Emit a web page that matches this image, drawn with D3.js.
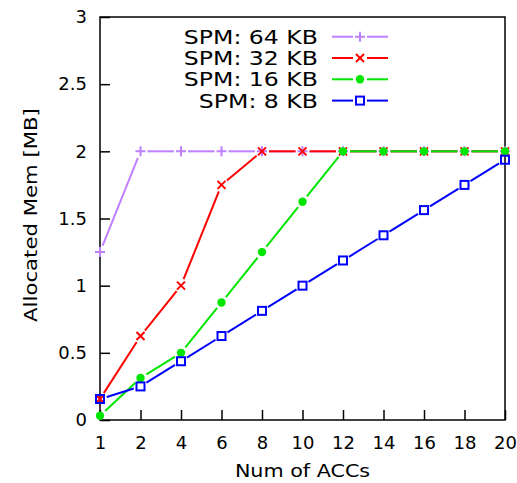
<!DOCTYPE html>
<html>
<head>
<meta charset="utf-8">
<script src="https://cdn.jsdelivr.net/npm/d3@7"></script>
<style>
  html, body { margin: 0; padding: 0; background: #fff; }
  text { font-family: "DejaVu Sans", sans-serif; fill: #000; }
</style>
</head>
<body>
<svg id="chart" width="517" height="483"></svg>
<script>
// Number of accelerators on the x axis (evenly spaced categories)
const accs = [1, 2, 4, 6, 8, 10, 12, 14, 16, 18, 20];

// Allocated memory in MB per scratchpad size
const spm64 = [1.25, 2, 2, 2, 2, 2, 2, 2, 2, 2, 2];
const spm32 = [0.15625, 0.625, 1.0, 1.75, 2, 2, 2, 2, 2, 2, 2];
const spm16 = [0.03125, 0.3125, 0.5, 0.875, 1.25, 1.625, 2, 2, 2, 2, 2];
const spm8  = [0.15625, 0.25, 0.4375, 0.625, 0.8125, 1.0, 1.1875, 1.375, 1.5625, 1.75, 1.9375];

const seriesNames = ["SPM: 64 KB", "SPM: 32 KB", "SPM: 16 KB", "SPM: 8 KB"];
const yTicks = [0, 0.5, 1, 1.5, 2, 2.5, 3];

const series = [
  { name: seriesNames[0], values: spm64, color: "#bf7fff", marker: "plus" },
  { name: seriesNames[1], values: spm32, color: "#ff0000", marker: "cross" },
  { name: seriesNames[2], values: spm16, color: "#00e600", marker: "dot" },
  { name: seriesNames[3], values: spm8,  color: "#0000ff", marker: "square" }
];

const svg = d3.select("#chart");
const plotL = 100, plotR = 505, plotT = 17, plotB = 420;

const x = d3.scalePoint().domain(accs.map(String)).range([plotL, plotR]).padding(0);
const y = d3.scaleLinear().domain([0, 3]).range([plotB, plotT]);

// Axes with inward ticks
const xAxis = d3.axisBottom(x).tickSize(-10).tickPadding(16).tickSizeOuter(0);
const yAxis = d3.axisLeft(y).tickValues(yTicks).tickSize(-10).tickPadding(13).tickSizeOuter(0)
  .tickFormat(d3.format("~g"));

const gx = svg.append("g").attr("transform", `translate(0,${plotB})`).call(xAxis);
const gy = svg.append("g").attr("transform", `translate(${plotL},0)`).call(yAxis);
[gx, gy].forEach(g => {
  g.select(".domain").remove();
  g.selectAll(".tick line").attr("stroke", "#000").attr("stroke-width", 1.5);
  g.selectAll(".tick text").attr("font-size", 18).attr("font-family", "DejaVu Sans").attr("fill", "#000");
});

// Frame
svg.append("rect")
  .attr("x", plotL).attr("y", plotT)
  .attr("width", plotR - plotL).attr("height", plotB - plotT)
  .attr("fill", "none").attr("stroke", "#000").attr("stroke-width", 1.5);

// Axis titles (slightly widened lettering)
svg.append("text")
  .attr("transform", `translate(${(plotL + plotR) / 2},477) scale(1.15,1)`)
  .attr("text-anchor", "middle").attr("font-size", 18)
  .text("Num of ACCs");
svg.append("text")
  .attr("transform", `translate(37,215) rotate(-90) scale(1.18,1)`)
  .attr("text-anchor", "middle").attr("font-size", 18)
  .text("Allocated Mem [MB]");

// Marker shapes
function drawMarker(g, type, cx, cy, color) {
  if (type === "plus") {
    g.append("path").attr("d", `M${cx - 5},${cy}H${cx + 5}M${cx},${cy - 5}V${cy + 5}`)
      .attr("stroke", color).attr("stroke-width", 2).attr("fill", "none");
  } else if (type === "cross") {
    g.append("path").attr("d", `M${cx - 4},${cy - 4}L${cx + 4},${cy + 4}M${cx - 4},${cy + 4}L${cx + 4},${cy - 4}`)
      .attr("stroke", color).attr("stroke-width", 2).attr("fill", "none");
  } else if (type === "dot") {
    g.append("circle").attr("cx", cx).attr("cy", cy).attr("r", 4.2).attr("fill", color);
  } else {
    g.append("rect").attr("x", cx - 4).attr("y", cy - 4).attr("width", 8).attr("height", 8)
      .attr("fill", "none").attr("stroke", color).attr("stroke-width", 2);
  }
}

// Line segments stop short of each marker, leaving a small gap
const gap = 7;
function segment(g, x1, y1, x2, y2, color) {
  const dx = x2 - x1, dy = y2 - y1, len = Math.hypot(dx, dy);
  if (len <= 2 * gap) return;
  const ux = dx / len, uy = dy / len;
  g.append("line")
    .attr("x1", x1 + ux * gap).attr("y1", y1 + uy * gap)
    .attr("x2", x2 - ux * gap).attr("y2", y2 - uy * gap)
    .attr("stroke", color).attr("stroke-width", 2);
}

const plot = svg.append("g");
series.forEach(s => {
  const g = plot.append("g");
  const pts = s.values.map((v, i) => [x(String(accs[i])), y(v)]);
  for (let i = 0; i < pts.length - 1; i++) {
    segment(g, pts[i][0], pts[i][1], pts[i + 1][0], pts[i + 1][1], s.color);
  }
  pts.forEach(p => drawMarker(g, s.marker, p[0], p[1], s.color));
});

// Legend
const legend = svg.append("g");
series.forEach((s, i) => {
  const ly = 36.7 + i * 21.3;
  legend.append("text")
    .attr("transform", `translate(318,${ly + 7}) scale(1.18,1)`)
    .attr("text-anchor", "end").attr("font-size", 20)
    .text(s.name);
  legend.append("line").attr("x1", 332).attr("x2", 353).attr("y1", ly).attr("y2", ly)
    .attr("stroke", s.color).attr("stroke-width", 2);
  legend.append("line").attr("x1", 367).attr("x2", 388).attr("y1", ly).attr("y2", ly)
    .attr("stroke", s.color).attr("stroke-width", 2);
  drawMarker(legend, s.marker, 360, ly, s.color);
});
</script>
</body>
</html>
